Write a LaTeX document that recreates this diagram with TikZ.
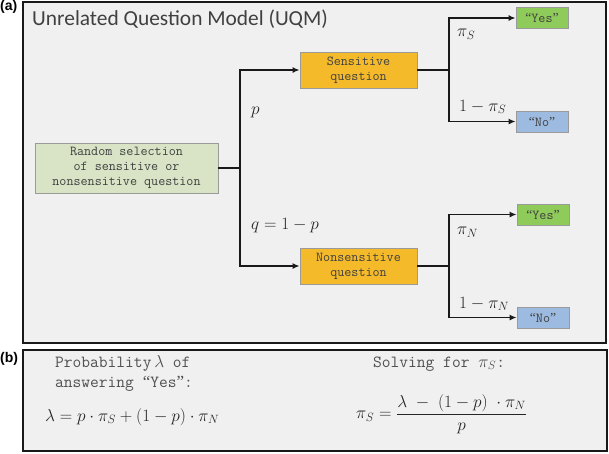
\documentclass[tikz,border=0pt]{standalone}
\usepackage{fontspec}
\setmainfont{Liberation Serif}
\newcommand\boxfont{\ttfamily}
\newcommand\openq{{\rmfamily “}}
\newcommand\closeq{{\rmfamily ”}}
\newfontfamily\titlefont{Carlito}
\newfontfamily\panelfont{Liberation Sans}
\usetikzlibrary{arrows.meta}
\definecolor{panelbg}{HTML}{F0F0F0}
\definecolor{randfill}{HTML}{D8E4C5}
\definecolor{orangefill}{HTML}{F4BA2A}
\definecolor{yesfill}{HTML}{8FCB5A}
\definecolor{nofill}{HTML}{9DBBE0}
\definecolor{boxline}{HTML}{9A9A9A}
\definecolor{boxtext}{HTML}{404040}
\definecolor{bodytext}{HTML}{505050}
\tikzset{
  panel/.style={draw=black!90, line width=1.8pt, fill=panelbg},
  qbox/.style={draw=boxline, line width=0.8pt, inner sep=0pt, align=center,
    text=boxtext, font=\boxfont\fontsize{13.7}{15}\selectfont},
  conn/.style={line width=1.6pt, black!90},
  arr/.style={conn, -{Latex[length=7pt,width=6pt]}},
  lbl/.style={font=\fontsize{17}{20}\selectfont, inner sep=0pt, text=black!85},
  plabel/.style={font=\panelfont\bfseries\fontsize{14}{16}\selectfont, inner sep=0pt, anchor=north west},
  bodytxt/.style={font=\boxfont\fontsize{17}{20}\selectfont, text=bodytext, inner sep=0pt, align=left},
  mathtxt/.style={font=\fontsize{17.4}{20}\selectfont, inner sep=0pt, text=black!85}
}
\begin{document}
\begin{tikzpicture}[x=1pt,y=-1pt]
\useasboundingbox (0,0) rectangle (609,453);
% panels
\draw[panel] (23,2) rectangle (606,343);
\draw[panel] (23,350) rectangle (607,451);
\node[plabel] (la) at (0,0) {(a)};
\node[plabel] (lb) at (0,352) {(b)};
% title
\node[anchor=west, inner sep=0pt, text=black!75, font=\titlefont\fontsize{21.4}{24}\selectfont] (title) at (32,19) {Unrelated Question Model (UQM)};
% boxes
\node[qbox, fill=randfill, minimum width=183pt, minimum height=50pt] (rand) at (126.5,168) {Random selection\\of sensitive or\\nonsensitive question};
\node[qbox, fill=orangefill, minimum width=117pt, minimum height=36pt] (sens) at (358.5,70) {Sensitive\\question};
\node[qbox, fill=orangefill, minimum width=117pt, minimum height=36pt] (nons) at (358.5,266) {Nonsensitive\\question};
\node[qbox, fill=yesfill, minimum width=52pt, minimum height=21pt] (yesS) at (542,18) {\openq Yes\closeq};
\node[qbox, fill=nofill, minimum width=52pt, minimum height=21pt] (noS) at (542,121.5) {\openq No\closeq};
\node[qbox, fill=yesfill, minimum width=52pt, minimum height=21pt] (yesN) at (543,214.5) {\openq Yes\closeq};
\node[qbox, fill=nofill, minimum width=52pt, minimum height=21pt] (noN) at (543,317.5) {\openq No\closeq};
% junctions
\coordinate (j1) at (240,168);
\coordinate (j2) at (449,70);
\coordinate (j3) at (449,266);
\draw[conn] (rand.east) -- (j1);
\draw[arr] (j1) |- (sens.west);
\draw[arr] (j1) |- (nons.west);
\draw[conn] (sens.east) -- (j2);
\draw[arr] (j2) |- (yesS.west);
\draw[arr] (j2) |- (noS.west);
\draw[conn] (nons.east) -- (j3);
\draw[arr] (j3) |- (yesN.west);
\draw[arr] (j3) |- (noN.west);
% labels
\node[lbl, anchor=west] (lp) at (251,112) {$p$};
\node[lbl, anchor=west] (lqq) at (251,226) {$q=1-p$};
\node[lbl, anchor=west] (lpis) at (457,34) {$\pi_S$};
\node[lbl, anchor=west] (l1pis) at (459,107) {$1-\pi_S$};
\node[lbl, anchor=west] (lpin) at (457,232) {$\pi_N$};
\node[lbl, anchor=west] (l1pin) at (459,304) {$1-\pi_N$};
% panel b
\node[bodytxt, anchor=north west] (probtxt) at (55,355) {Probability\,$\lambda$ of\\answering \openq Yes\closeq:};
\node[mathtxt, anchor=west] (eq1) at (45,417) {$\lambda = p\cdot\pi_S + (1-p)\cdot\pi_N$};
\node[bodytxt, anchor=west] (solvetxt) at (373,364) {Solving for $\pi_S$:};
\node[mathtxt, anchor=west] (eq2) at (356,414) {$\displaystyle\pi_S = \frac{\lambda\;-\;(1-p)\;\cdot\pi_N}{p}$};
\end{tikzpicture}
\end{document}
